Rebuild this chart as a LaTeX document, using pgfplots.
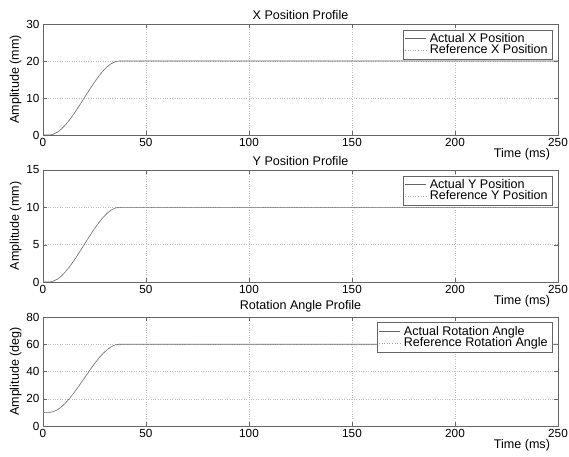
\documentclass[border=0pt]{standalone}
\usepackage{fontspec}
\setmainfont{Liberation Sans}
\usepackage{pgfplots}
\pgfplotsset{compat=1.18}
\definecolor{axgray}{gray}{0.4}
\definecolor{curve}{gray}{0.4}
\newcommand{\ff}{\fontsize{11.8}{13}\selectfont}
\newcommand{\fl}{\fontsize{12.6}{14}\selectfont}
\pgfplotsset{
  mystyle/.style={
    scale only axis, width=515bp, anchor=south west,
    xmin=0, xmax=250, xtick={0,50,...,250},
    grid=major, grid style={dotted, gray!50, line width=0.5pt},
    axis line style={axgray}, tick style={axgray},
    tick align=inside,
    ticklabel style={font=\ff},
    /pgf/number format/assume math mode=true,
    title style={font=\fl, yshift=-5bp},
    xlabel={Time (ms)},
    xlabel style={font=\fl, at={(rel axis cs:0.93,0)}, anchor=center, yshift=-19bp},
    ylabel style={font=\fl, yshift=-2bp},
    legend style={at={(rel axis cs:0.99,0.95)}, anchor=north east, font=\fl,
      draw=axgray, row sep=-3pt, inner sep=1.5pt,
      nodes={inner xsep=3.5pt}},
    legend image code/.code={\draw[#1] (0bp,0bp) -- (21bp,0bp);},
    legend cell align=left,
    every axis plot/.append style={curve, line width=0.6pt},
  }
}
\begin{document}
\begin{tikzpicture}
\path[use as bounding box] (0bp,0bp) rectangle (569bp,457bp);
% Top axis
\begin{axis}[mystyle, at={(43bp,322bp)}, height=111bp,
  ymin=0, ymax=30, ytick={0,10,20,30},
  title={X Position Profile}, ylabel={Amplitude (mm)}]
\addplot[solid] coordinates {(0,0)(3,0)(5,0.20)(7,0.77)(9,1.65)(11,2.80)(13,4.17)(15,5.72)(17,7.38)(19,9.12)(20,10)(21,10.88)(23,12.62)(25,14.28)(27,15.83)(29,17.20)(31,18.35)(33,19.23)(35,19.80)(37,20)(250,20)};
\addlegendentry{Actual X Position}
\addplot[dotted, gray!70] coordinates {(0,0)(3,0)(5,0.20)(7,0.77)(9,1.65)(11,2.80)(13,4.17)(15,5.72)(17,7.38)(19,9.12)(20,10)(21,10.88)(23,12.62)(25,14.28)(27,15.83)(29,17.20)(31,18.35)(33,19.23)(35,19.80)(37,20)(250,20)};
\addlegendentry{Reference X Position}
\end{axis}
% Middle axis
\begin{axis}[mystyle, at={(43bp,175bp)}, height=112bp,
  ymin=0, ymax=15, ytick={0,5,10,15},
  title={Y Position Profile}, ylabel={Amplitude (mm)}]
\addplot[solid] coordinates {(0,0)(3,0)(5,0.10)(7,0.38)(9,0.82)(11,1.40)(13,2.09)(15,2.86)(17,3.69)(19,4.56)(20,5)(21,5.44)(23,6.31)(25,7.14)(27,7.91)(29,8.60)(31,9.18)(33,9.62)(35,9.90)(37,10)(250,10)};
\addlegendentry{Actual Y Position}
\addplot[dotted, gray!70] coordinates {(0,0)(3,0)(5,0.10)(7,0.38)(9,0.82)(11,1.40)(13,2.09)(15,2.86)(17,3.69)(19,4.56)(20,5)(21,5.44)(23,6.31)(25,7.14)(27,7.91)(29,8.60)(31,9.18)(33,9.62)(35,9.90)(37,10)(250,10)};
\addlegendentry{Reference Y Position}
\end{axis}
% Bottom axis
\begin{axis}[mystyle, at={(43bp,31bp)}, height=109bp,
  ymin=0, ymax=80, ytick={0,20,40,60,80},
  title={Rotation Angle Profile}, ylabel={Amplitude (deg)}]
\addplot[solid] coordinates {(0,10)(3,10)(5,10.50)(7,11.91)(9,14.12)(11,17.00)(13,20.43)(15,24.29)(17,28.45)(19,32.80)(20,35)(21,37.20)(23,41.55)(25,45.71)(27,49.57)(29,53.00)(31,55.88)(33,58.09)(35,59.50)(37,60)(250,60)};
\addlegendentry{Actual Rotation Angle}
\addplot[dotted, gray!70] coordinates {(0,10)(3,10)(5,10.50)(7,11.91)(9,14.12)(11,17.00)(13,20.43)(15,24.29)(17,28.45)(19,32.80)(20,35)(21,37.20)(23,41.55)(25,45.71)(27,49.57)(29,53.00)(31,55.88)(33,58.09)(35,59.50)(37,60)(250,60)};
\addlegendentry{Reference Rotation Angle}
\end{axis}
\end{tikzpicture}
\end{document}
